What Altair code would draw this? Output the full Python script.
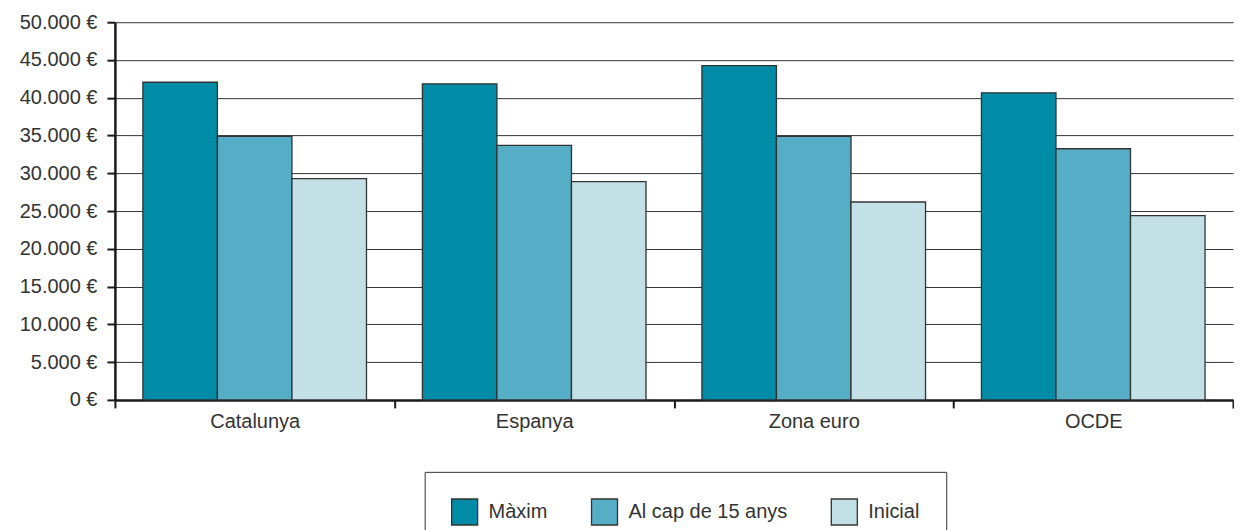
import altair as alt
import pandas as pd

regions = ["Catalunya", "Espanya", "Zona euro", "OCDE"]
series = ["Màxim", "Al cap de 15 anys", "Inicial"]
maxim = [42050, 41850, 44250, 40650]
al_cap = [34900, 33700, 34900, 33250]
inicial = [29300, 28900, 26200, 24400]
colors = ["#008BA7", "#55AEC6", "#C3E0E7"]
y_ticks = [0, 5000, 10000, 15000, 20000, 25000, 30000, 35000, 40000, 45000, 50000]

rows = []
for i, r in enumerate(regions):
    for s, vals in zip(series, [maxim, al_cap, inicial]):
        rows.append({"region": r, "serie": s, "valor": vals[i]})
df = pd.DataFrame(rows)

FONT = "Liberation Sans"
TXT = "#333333"
FS = 20

chart = alt.Chart(df).mark_bar(stroke="#333333", strokeWidth=1.3).encode(
    x=alt.X("region:N", sort=regions, title=None,
            scale=alt.Scale(paddingInner=0, paddingOuter=0),
            axis=alt.Axis(labelAngle=0, tickBand="extent", domainColor="#1a1a1a",
                          domainWidth=2.5, tickColor="#1a1a1a", tickWidth=2,
                          tickSize=8, labelPadding=4, labelFontSize=FS,
                          labelColor=TXT, labelFont=FONT, grid=False)),
    xOffset=alt.XOffset("serie:N", sort=series,
                        scale=alt.Scale(paddingInner=0, paddingOuter=0.375)),
    y=alt.Y("valor:Q", title=None,
            scale=alt.Scale(domain=[0, 50000], nice=False),
            axis=alt.Axis(values=y_ticks,
                          labelExpr="replace(format(datum.value, ',d'), ',', '.') + ' €'",
                          domainColor="#1a1a1a", domainWidth=2.5, tickColor="#1a1a1a",
                          tickWidth=2, tickSize=8, labelPadding=10, labelFontSize=FS,
                          labelColor=TXT, labelFont=FONT, gridColor="#333333",
                          gridWidth=1, minExtent=102, maxExtent=102)),
    color=alt.Color("serie:N",
                    scale=alt.Scale(domain=series, range=colors),
                    legend=alt.Legend(title=None, orient="none", direction="horizontal",
                                      legendX=310, legendY=450,
                                      symbolType="square", symbolSize=676,
                                      symbolStrokeColor="#333333", symbolStrokeWidth=1.3,
                                      symbolOpacity=1,
                                      labelFontSize=FS, labelColor=TXT, labelFont=FONT,
                                      labelOffset=10, columnPadding=41,
                                      strokeColor="#333333", padding=26)),
).properties(
    width=1119, height=378,
    padding={"left": 5, "top": 4, "right": 0, "bottom": 0},
).configure_view(stroke=None)

chart.save("out.html", embed_options={"renderer": "svg", "actions": False})
